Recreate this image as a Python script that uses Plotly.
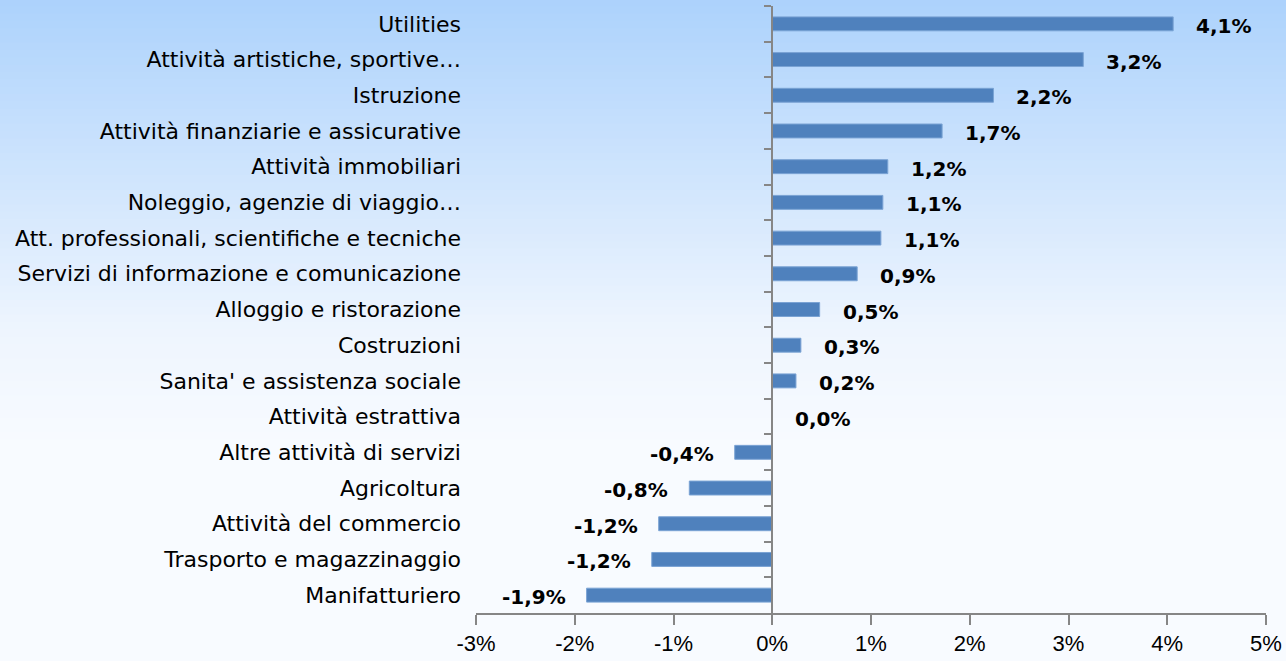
import plotly.graph_objects as go

categories = [
    "Utilities",
    "Attività artistiche, sportive…",
    "Istruzione",
    "Attività finanziarie e assicurative",
    "Attività immobiliari",
    "Noleggio, agenzie di viaggio…",
    "Att. professionali, scientifiche e tecniche",
    "Servizi di informazione e comunicazione",
    "Alloggio e ristorazione",
    "Costruzioni",
    "Sanita' e assistenza sociale",
    "Attività estrattiva",
    "Altre attività di servizi",
    "Agricoltura",
    "Attività del commercio",
    "Trasporto e magazzinaggio",
    "Manifatturiero",
]
values = [4.06, 3.15, 2.24, 1.72, 1.17, 1.12, 1.10, 0.86, 0.48, 0.29, 0.24,
          0.0, -0.38, -0.84, -1.15, -1.22, -1.88]
value_labels = ["4,1%", "3,2%", "2,2%", "1,7%", "1,2%", "1,1%", "1,1%", "0,9%",
                "0,5%", "0,3%", "0,2%", "0,0%", "-0,4%", "-0,8%", "-1,2%",
                "-1,2%", "-1,9%"]
x_ticks = [-3, -2, -1, 0, 1, 2, 3, 4, 5]
x_ticklabels = ["-3%", "-2%", "-1%", "0%", "1%", "2%", "3%", "4%", "5%"]

W, H = 1286, 661
ML, MR, MT, MB = 476, 20, 6, 48
PW, PH = W - ML - MR, H - MT - MB

CAT_FONT = "DejaVu Sans"
LBL_FONT = "DejaVu Sans"
TICK_FONT = "Liberation Sans"
AXIS_GRAY = "#868686"

fig = go.Figure()
fig.add_trace(go.Bar(
    x=values, y=categories, orientation="h",
    marker=dict(color="#4f81bd", line=dict(color="#7aa3d4", width=1)),
    width=0.39, showlegend=False, hoverinfo="x+y",
))
# invisible trace to drive the zero-positioned category axis
fig.add_trace(go.Scatter(
    x=values, y=categories, yaxis="y2", mode="markers",
    marker=dict(opacity=0), showlegend=False, hoverinfo="skip",
))

for v, c, t in zip(values, categories, value_labels):
    neg = v < 0
    fig.add_annotation(
        x=v, y=c, text=t, showarrow=False,
        xanchor="right" if neg else "left",
        xshift=-19 if neg else 21, yshift=-2,
        font=dict(family=LBL_FONT, size=20, color="#000000", weight="bold"),
    )

# gradient background built from thin strips
def lerp(a, b, t):
    return tuple(round(a[i] + (b[i] - a[i]) * t) for i in range(3))

stops = [(0.0, (172, 210, 252)), (0.5, (238, 245, 254)),
         (0.68, (248, 251, 255)), (1.0, (248, 251, 255))]
N = 90
x0p, x1p = -ML / PW, 1 + MR / PW
for i in range(N):
    f0, f1 = i / N, (i + 1) / N
    fm = (f0 + f1) / 2
    for (s0, c0), (s1, c1) in zip(stops[:-1], stops[1:]):
        if s0 <= fm <= s1:
            col = lerp(c0, c1, (fm - s0) / (s1 - s0))
            break
    y_top = 1 + MT / PH - f0 * H / PH + 0.002
    y_bot = 1 + MT / PH - f1 * H / PH - 0.002
    fig.add_shape(type="rect", xref="paper", yref="paper",
                  x0=x0p, x1=x1p, y0=y_bot, y1=y_top,
                  fillcolor="rgb(%d,%d,%d)" % col, line=dict(width=0),
                  layer="below")

zero_pos = (0 - x_ticks[0]) / (x_ticks[-1] - x_ticks[0])

fig.update_layout(
    width=W, height=H,
    margin=dict(l=ML, r=MR, t=MT, b=MB),
    paper_bgcolor="rgba(0,0,0,0)",
    plot_bgcolor="rgba(0,0,0,0)",
    font=dict(family=CAT_FONT, size=20, color="#000000"),
    xaxis=dict(
        range=[x_ticks[0], x_ticks[-1]],
        tickvals=x_ticks, ticktext=x_ticklabels,
        showgrid=False, zeroline=False,
        showline=True, linecolor=AXIS_GRAY, linewidth=2,
        ticks="outside", ticklen=10, tickwidth=2, tickcolor=AXIS_GRAY,
        tickfont=dict(family=TICK_FONT, size=22, color="#000000"),
        ticklabeloverflow="allow",
        automargin=False, fixedrange=True,
    ),
    yaxis=dict(
        type="category", categoryorder="array", categoryarray=categories,
        range=[len(categories) - 0.5, -0.5],
        showgrid=False, zeroline=False, showline=False, ticks="",
        ticklabelstandoff=14,
        tickfont=dict(family=CAT_FONT, size=22, color="#000000"),
        automargin=False, fixedrange=True,
    ),
    yaxis2=dict(
        type="category", categoryorder="array", categoryarray=categories,
        range=[len(categories) - 0.5, -0.5],
        overlaying="y", anchor="free", position=zero_pos, side="left",
        showgrid=False, zeroline=False, showticklabels=False,
        showline=True, linecolor=AXIS_GRAY, linewidth=2,
        ticks="outside", tickson="boundaries", ticklen=7, tickwidth=2,
        tickcolor=AXIS_GRAY, automargin=False, fixedrange=True,
    ),
    bargap=0.6,
)

fig.write_html(
    "out.html",
    config={"displayModeBar": False},
    post_script="document.body.style.margin='0';document.body.style.overflow='hidden';",
)
